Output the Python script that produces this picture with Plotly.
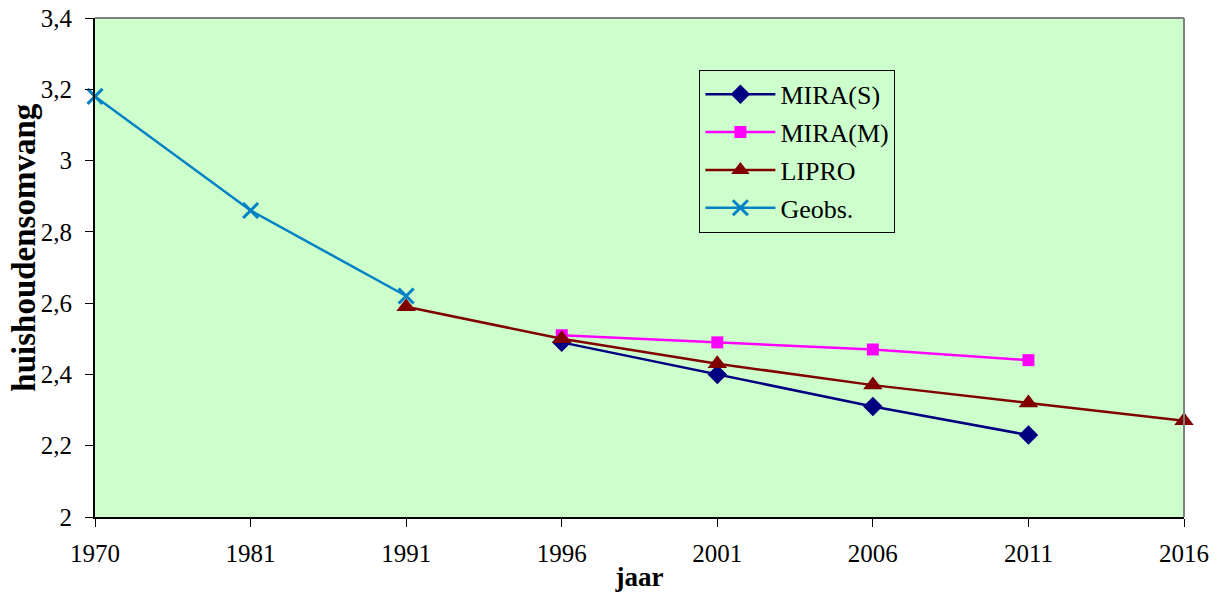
import plotly.graph_objects as go

# Categories on the x-axis (evenly spaced, not a real time scale)
years = ["1970", "1981", "1991", "1996", "2001", "2006", "2011", "2016"]

# Series values
mira_s_x = ["1996", "2001", "2006", "2011"]
mira_s_y = [2.49, 2.40, 2.31, 2.23]

mira_m_x = ["1996", "2001", "2006", "2011"]
mira_m_y = [2.51, 2.49, 2.47, 2.44]

lipro_x = ["1991", "1996", "2001", "2006", "2011", "2016"]
lipro_y = [2.59, 2.50, 2.43, 2.37, 2.32, 2.27]

geobs_x = ["1970", "1981", "1991"]
geobs_y = [3.18, 2.86, 2.62]

FONT = "Liberation Serif, Times New Roman, serif"

fig = go.Figure()


def add_series(x, y, name, colour, symbol, size, group, marker_line=0):
    fig.add_trace(go.Scatter(
        x=x, y=y, name=name, mode="lines+markers",
        line=dict(color=colour, width=2.5),
        marker=dict(symbol=symbol, size=size, color=colour,
                    line=dict(color=colour, width=marker_line)),
        cliponaxis=False, legendgroup=group,
    ))


add_series(mira_s_x, mira_s_y, "MIRA(S)", "#000080", "diamond", 15, "a")
add_series(mira_m_x, mira_m_y, "MIRA(M)", "#FF00FF", "square", 12, "b")
add_series(lipro_x, lipro_y, "LIPRO", "#800000", "triangle-up", 17, "c")
add_series(geobs_x, geobs_y, "Geobs.", "#0582C6", "x-thin", 15, "d", marker_line=3)

# gray frame on top and right of the plot area, like the original
fig.add_shape(type="line", xref="x domain", yref="y domain",
              x0=0, x1=1, y0=1, y1=1, line=dict(color="#808080", width=2))
fig.add_shape(type="line", xref="x domain", yref="y domain",
              x0=1, x1=1, y0=0, y1=1, line=dict(color="#808080", width=2))

# y title as an annotation - it sits a bit above the middle in the original
fig.add_annotation(text="<b>huishoudensomvang</b>", textangle=-90,
                   xref="paper", yref="paper", x=-0.066, y=0.54,
                   xanchor="center", yanchor="middle", showarrow=False,
                   font=dict(size=33))

fig.update_layout(
    width=1222, height=592,
    margin=dict(l=95, r=38, t=18, b=75),
    plot_bgcolor="#CCFFCC",
    paper_bgcolor="white",
    separators=", ",
    font=dict(family=FONT, size=25, color="black"),
    showlegend=True,
    legend=dict(x=0.555, y=0.896, xanchor="left", yanchor="top",
                bgcolor="rgba(0,0,0,0)", bordercolor="black", borderwidth=1,
                font=dict(size=26), traceorder="grouped", tracegroupgap=1,
                itemwidth=70),
    # second pair of axes only draws the inner half of the crossing ticks
    xaxis2=dict(overlaying="x", range=[0, 7], tick0=0, dtick=1,
                ticks="inside", ticklen=8, tickcolor="black",
                showticklabels=False, showgrid=False, zeroline=False,
                showline=False, side="bottom"),
    yaxis2=dict(overlaying="y", range=[2, 3.4], tick0=2, dtick=0.2,
                ticks="inside", ticklen=8, tickcolor="black",
                showticklabels=False, showgrid=False, zeroline=False,
                showline=False, side="left"),
    xaxis=dict(
        type="category", categoryorder="array", categoryarray=years,
        range=[0, 7], showgrid=False, zeroline=False, automargin=False,
        showline=True, linecolor="black", linewidth=2,
        ticks="outside", ticklen=8, tickcolor="black", ticklabelstandoff=5,
        title=dict(text="<b>jaar</b>", font=dict(size=27), standoff=7),
    ),
    yaxis=dict(
        range=[2, 3.4], dtick=0.2, showgrid=False, zeroline=False, automargin=False,
        showline=True, linecolor="black", linewidth=2,
        ticks="outside", ticklen=8, tickcolor="black", ticklabelstandoff=8,
        ticklabeloverflow="allow",
    ),
)

# drop the default 8px body margin so the figure fills the window exactly
fig.write_html("out.html", config={"displayModeBar": False},
               post_script="document.body.style.margin='0';")
